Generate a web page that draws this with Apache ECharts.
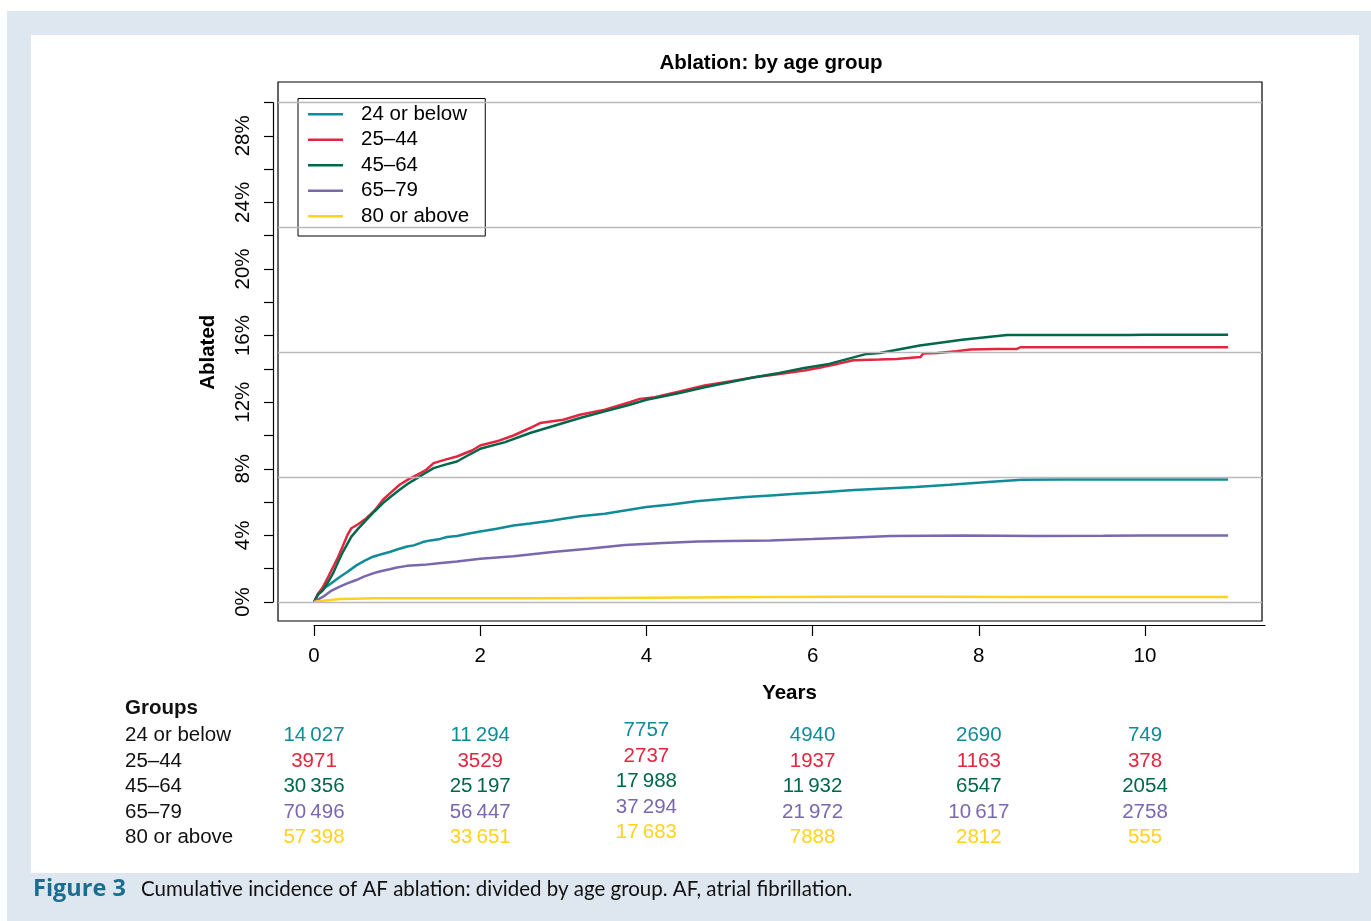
<!DOCTYPE html>
<html>
<head>
<meta charset="utf-8">
<title>Ablation: by age group</title>
<script src="https://cdn.jsdelivr.net/npm/echarts@6/dist/echarts.min.js"></script>
<style>
html, body { margin: 0; padding: 0; background: #fff; }
#main { width: 1371px; height: 921px; }
</style>
</head>
<body>
<div id="main"></div>
<script>
// groups + colours
var groups = ['24 or below', '25–44', '45–64', '65–79', '80 or above'];
var colors = ['#0f8c98', '#e4253f', '#00684a', '#7a68ae', '#ffd21e'];

// cumulative incidence curves [years, %]
var curve24 = [[0,0],[0.05,0.5],[0.1,0.75],[0.2,1.1],[0.31,1.5],[0.4,1.8],[0.51,2.2],[0.6,2.45],[0.71,2.72],[0.8,2.85],[0.91,3.0],[1.0,3.15],[1.12,3.33],[1.2,3.4],[1.31,3.6],[1.4,3.7],[1.52,3.79],[1.6,3.9],[1.72,3.97],[1.85,4.1],[2.0,4.23],[2.2,4.4],[2.4,4.6],[2.6,4.72],[2.87,4.9],[3.0,5.0],[3.2,5.15],[3.5,5.3],[3.74,5.5],[4.0,5.7],[4.3,5.85],[4.6,6.05],[4.91,6.18],[5.2,6.3],[5.5,6.4],[5.8,6.5],[6.07,6.58],[6.5,6.72],[7.0,6.85],[7.24,6.9],[7.65,7.04],[8.11,7.2],[8.52,7.34],[9,7.35],[10,7.35],[11,7.35]];
var curve25 = [[0,0],[0.05,0.5],[0.11,0.92],[0.17,1.5],[0.23,2.1],[0.29,2.7],[0.35,3.4],[0.4,4.0],[0.45,4.43],[0.54,4.7],[0.63,5.03],[0.73,5.5],[0.83,6.14],[0.93,6.6],[1.03,7.04],[1.13,7.35],[1.24,7.64],[1.34,7.9],[1.44,8.34],[1.58,8.55],[1.72,8.74],[1.9,9.1],[2.0,9.4],[2.2,9.65],[2.4,10.0],[2.6,10.45],[2.72,10.75],[3.0,10.95],[3.2,11.25],[3.5,11.55],[3.8,12.0],[3.92,12.2],[4.1,12.3],[4.4,12.65],[4.7,13.0],[5.0,13.25],[5.3,13.5],[5.6,13.7],[5.9,13.9],[6.13,14.12],[6.3,14.3],[6.49,14.52],[6.8,14.56],[7.01,14.6],[7.3,14.72],[7.33,14.92],[7.5,14.95],[7.73,15.06],[7.9,15.16],[8.2,15.2],[8.46,15.2],[8.5,15.3],[9,15.3],[10,15.3],[11,15.3]];
var curve45 = [[0,0],[0.05,0.45],[0.11,0.72],[0.17,1.2],[0.23,1.73],[0.29,2.4],[0.35,3.03],[0.45,3.93],[0.54,4.45],[0.63,4.93],[0.73,5.45],[0.83,5.94],[0.93,6.35],[1.03,6.74],[1.13,7.1],[1.24,7.44],[1.34,7.75],[1.44,8.04],[1.58,8.25],[1.72,8.44],[1.85,8.8],[2.0,9.2],[2.3,9.6],[2.6,10.15],[2.9,10.6],[3.2,11.05],[3.5,11.45],[3.8,11.85],[4.0,12.15],[4.4,12.55],[4.7,12.9],[5.0,13.2],[5.3,13.5],[5.6,13.76],[5.9,14.05],[6.2,14.3],[6.65,14.9],[6.81,14.96],[7.29,15.4],[7.8,15.75],[8.34,16.03],[9,16.03],[9.8,16.03],[10,16.05],[11,16.05]];
var curve65 = [[0,0],[0.05,0.15],[0.11,0.32],[0.2,0.65],[0.31,0.92],[0.4,1.12],[0.51,1.32],[0.6,1.52],[0.71,1.72],[0.8,1.85],[0.91,1.97],[1.0,2.07],[1.12,2.17],[1.32,2.23],[1.5,2.33],[1.72,2.43],[2.0,2.6],[2.4,2.75],[2.87,3.0],[3.3,3.2],[3.74,3.42],[4.2,3.55],[4.62,3.63],[5.0,3.66],[5.49,3.69],[6.0,3.78],[6.5,3.88],[6.94,3.97],[7.82,4.0],[8.7,3.97],[9.5,3.98],[10,4.0],[11,4.0]];
var curve80 = [[0,0],[0.05,0.04],[0.11,0.08],[0.2,0.12],[0.31,0.18],[0.5,0.2],[0.71,0.22],[1.5,0.22],[2.5,0.22],[3.5,0.24],[4.5,0.27],[5.5,0.3],[6.5,0.32],[7.5,0.32],[8.5,0.3],[9.5,0.3],[11,0.3]];
var curves = [curve24, curve25, curve45, curve65, curve80];

// axis ticks
var xTicks = [0, 2, 4, 6, 8, 10];
var yLabels = [0, 4, 8, 12, 16, 20, 24, 28];
var gridLines = [0, 7.5, 15, 22.5, 30];

// numbers at risk
var riskTimes = [0, 2, 4, 6, 8, 10];
var risk24 = [14027, 11294, 7757, 4940, 2690, 749];
var risk25 = [3971, 3529, 2737, 1937, 1163, 378];
var risk45 = [30356, 25197, 17988, 11932, 6547, 2054];
var risk65 = [70496, 56447, 37294, 21972, 10617, 2758];
var risk80 = [57398, 33651, 17683, 7888, 2812, 555];
var risks = [risk24, risk25, risk45, risk65, risk80];
var colShift = [0, 0, -5, 0, 0, 0];

var FONT = 'Liberation Sans, Arial, sans-serif';

function fmt(n) {
    if (n >= 10000) {
        var s = String(n);
        return s.slice(0, s.length - 3) + '\u2009' + s.slice(s.length - 3);
    }
    return String(n);
}

var myChart = echarts.init(document.getElementById('main'));

var series = [];
// grey reference lines
series.push({
    name: 'ref',
    type: 'line',
    xAxisIndex: 0,
    yAxisIndex: 0,
    data: [],
    z: 1,
    markLine: {
        silent: true,
        symbol: 'none',
        label: {show: false},
        lineStyle: {color: '#bababa', width: 1.3, type: 'solid'},
        data: gridLines.map(function (v) { return {yAxis: v}; })
    }
});
for (var i = 0; i < groups.length; i++) {
    series.push({
        name: groups[i],
        type: 'line',
        xAxisIndex: 0,
        yAxisIndex: 0,
        symbol: 'none',
        showSymbol: false,
        color: colors[i],
        lineStyle: {width: 2.5, color: colors[i]},
        z: 3,
        data: curves[i]
    });
}
// at-risk table
for (var g = 0; g < groups.length; g++) {
    series.push({
        name: 'risk' + g,
        type: 'scatter',
        xAxisIndex: 3,
        yAxisIndex: 3,
        symbolSize: 0,
        silent: true,
        itemStyle: {opacity: 1, color: colors[g]},
        label: {
            show: true,
            position: 'inside',
            color: colors[g],
            opacity: 1,
            fontSize: 20.5,
            fontFamily: FONT,
            formatter: function (p) { return fmt(p.value[2]); }
        },
        data: riskTimes.map(function (t, j) {
            return {value: [t, groups[g], risks[g][j]], label: {offset: [0, colShift[j]]}};
        })
    });
}

option = {
    animation: false,
    textStyle: {fontFamily: FONT},
    graphic: [
        {type: 'rect', z: -100, silent: true, shape: {x: 7, y: 11, width: 1364, height: 910}, style: {fill: '#dee7f0'}},
        {type: 'rect', z: -99, silent: true, shape: {x: 31, y: 35, width: 1328, height: 838}, style: {fill: '#ffffff'}},
        {type: 'text', x: 771, y: 63.5, style: {text: 'Ablation: by age group', font: 'bold 20.5px ' + FONT, fill: '#000', textAlign: 'center', textVerticalAlign: 'middle'}},
        {type: 'text', x: 125, y: 708, style: {text: 'Groups', font: 'bold 20.5px ' + FONT, fill: '#111', textAlign: 'left', textVerticalAlign: 'middle'}},
        {type: 'text', x: 33, y: 889, style: {text: 'Figure 3', font: 'bold 23.5px "Open Sans", sans-serif', fill: '#1a6d8e', textAlign: 'left', textVerticalAlign: 'middle'}},
        {type: 'text', x: 141, y: 889, style: {text: 'Cumulative incidence of AF ablation: divided by age group. AF, atrial fibrillation.', font: '20.5px Lato, sans-serif', fill: '#111', textAlign: 'left', textVerticalAlign: 'middle'}}
    ],
    legend: {
        data: groups,
        orient: 'vertical',
        left: 298,
        top: 98.5,
        padding: [3, 16, 7, 10],
        itemGap: 0,
        itemWidth: 35,
        itemHeight: 2.5,
        icon: 'rect',
        borderColor: '#000',
        borderWidth: 1,
        borderRadius: 0,
        backgroundColor: '#fff',
        textStyle: {fontSize: 20.5, fontFamily: FONT, color: '#000', lineHeight: 25.5, padding: [0, 0, 0, 13]}
    },
    grid: [
        {left: 278, top: 82, width: 984, height: 539, show: true, borderColor: '#000', borderWidth: 1.2, backgroundColor: 'transparent'},
        {left: 314, top: 600, width: 951, height: 25},
        {left: 273, top: 102.5, width: 10, height: 499.5},
        {left: 278, top: 723, width: 984, height: 127.5}
    ],
    xAxis: [
        {gridIndex: 0, type: 'value', min: -0.4332, max: 11.408, show: false},
        {
            gridIndex: 1, type: 'value', min: 0, max: 11.444, position: 'bottom',
            name: 'Years', nameLocation: 'middle', nameGap: 58,
            nameTextStyle: {fontSize: 20.5, fontWeight: 'bold', color: '#000', fontFamily: FONT},
            axisLine: {show: true, lineStyle: {color: '#000', width: 1.2}},
            axisTick: {show: true, length: 11, customValues: xTicks, lineStyle: {color: '#000', width: 1.2}},
            axisLabel: {customValues: xTicks, margin: 21, fontSize: 20.5, color: '#000', fontFamily: FONT},
            splitLine: {show: false}
        },
        {gridIndex: 2, type: 'value', min: 0, max: 1, show: false},
        {gridIndex: 3, type: 'value', min: -0.4332, max: 11.408, show: false}
    ],
    yAxis: [
        {gridIndex: 0, type: 'value', min: -1.141, max: 31.231, show: false},
        {gridIndex: 1, type: 'value', min: 0, max: 1, show: false},
        {
            gridIndex: 2, type: 'value', min: 0, max: 30, interval: 2, position: 'left',
            name: 'Ablated', nameLocation: 'middle', nameGap: 54,
            nameTextStyle: {fontSize: 20.5, fontWeight: 'bold', color: '#000', fontFamily: FONT},
            axisLine: {show: true, lineStyle: {color: '#000', width: 1.2}},
            axisTick: {show: true, length: 9, lineStyle: {color: '#000', width: 1.2}},
            axisLabel: {customValues: yLabels, rotate: 90, margin: 19, fontSize: 20.5, color: '#000', fontFamily: FONT, formatter: '{value}%'},
            splitLine: {show: false}
        },
        {
            gridIndex: 3, type: 'category', data: groups, inverse: true,
            axisLine: {show: false}, axisTick: {show: false}, splitLine: {show: false},
            axisLabel: {interval: 0, align: 'left', margin: 153, fontSize: 20.5, color: '#111', fontFamily: FONT}
        }
    ],
    series: series
};

myChart.setOption(option);
</script>
</body>
</html>
